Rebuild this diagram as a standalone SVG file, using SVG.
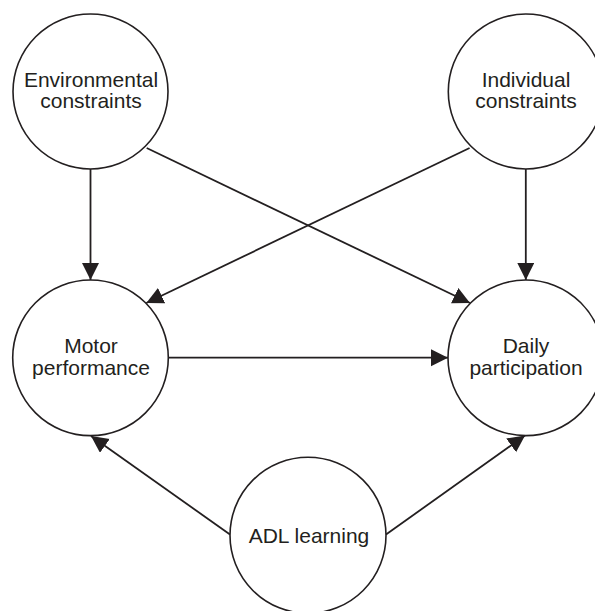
<svg xmlns="http://www.w3.org/2000/svg" width="595" height="611" viewBox="0 0 595 611">
<style>
.node circle{fill:#ffffff;stroke:#231f20;stroke-width:1.6}
.node text{font-family:"Liberation Sans",Arial,Helvetica,sans-serif;font-size:21px;fill:#231f20;text-anchor:middle}
.edge{stroke:#231f20;stroke-width:1.8;fill:none;marker-end:url(#arr)}
</style>
<defs>
<marker id="arr" markerUnits="userSpaceOnUse" markerWidth="18" markerHeight="18" refX="17" refY="8.5" orient="auto">
<path d="M0,0 L17,8.5 L0,17 Z" fill="#231f20"/>
</marker>
</defs>
<rect width="595" height="611" fill="#ffffff"/>
<g id="connectors">
<line class="edge" x1="90.5" y1="169" x2="90.5" y2="280"/>
<line class="edge" x1="525.8" y1="169" x2="525.8" y2="280"/>
<line class="edge" x1="146.7" y1="148" x2="470" y2="303"/>
<line class="edge" x1="469.6" y1="148" x2="146.3" y2="303"/>
<line class="edge" x1="168.3" y1="357.7" x2="448" y2="357.7"/>
<line class="edge" x1="230" y1="534.5" x2="91" y2="436"/>
<line class="edge" x1="386" y1="534.5" x2="525" y2="435.5"/>
</g>
<g id="env" class="node">
<circle cx="90.5" cy="91.5" r="77.5"/>
<text x="91" y="87">Environmental</text>
<text x="91" y="108">constraints</text>
</g>
<g id="ind" class="node">
<circle cx="525.8" cy="91.5" r="77.5"/>
<text x="526" y="87">Individual</text>
<text x="526" y="108">constraints</text>
</g>
<g id="motor" class="node">
<circle cx="90.5" cy="357.8" r="77.8"/>
<text x="91" y="353">Motor</text>
<text x="91" y="375">performance</text>
</g>
<g id="daily" class="node">
<circle cx="525.8" cy="357.8" r="77.8"/>
<text x="526" y="353">Daily</text>
<text x="526" y="375">participation</text>
</g>
<g id="adl" class="node">
<circle cx="308" cy="535.3" r="78"/>
<text x="309" y="542.5">ADL learning</text>
</g>
</svg>
